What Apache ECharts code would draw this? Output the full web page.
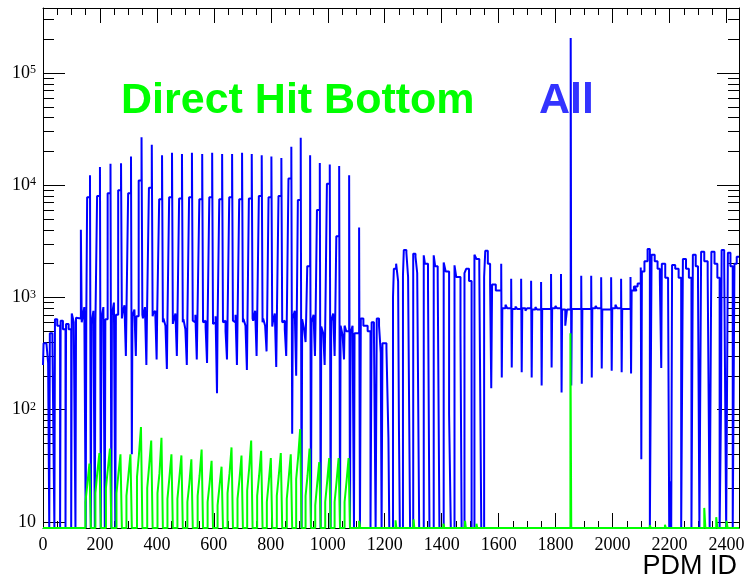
<!DOCTYPE html>
<html>
<head>
<meta charset="utf-8">
<script src="https://cdn.jsdelivr.net/npm/echarts@6/dist/echarts.min.js"></script>
<style>
html,body{margin:0;padding:0;background:#fff}
#main{width:744px;height:582px}
</style>
</head>
<body>
<div id="main"></div>
<script>
// 坐标范围
var X_MAX = 2444;
var Y_MIN = 8.8;
var Y_MAX = 380000;

// 刻度
var xTicks = [0, 200, 400, 600, 800, 1000, 1200, 1400, 1600, 1800, 2000, 2200, 2400];
var yTicks = [10, 100, 1000, 10000, 100000];

// All (蓝) - 开头几段 [PDM ID, 计数]
var blueStart = [
    [0, 250], [2, 390], [12, 400], [18, 260], [22, 0], [24, 480], [33, 420], [40, 0],
    [42, 640], [50, 560], [60, 0], [62, 620], [70, 520], [79, 0], [81, 580], [90, 520],
    [99, 0], [101, 720], [108, 600], [114, 0], [116, 660]
];
// 尖峰区: [峰位置, 肩, 峰, 峰后, 平台1, 凹陷, 平台2]
var blueSpikes = [
    [135, 650, 4000, 600, 640, 0, 820],
    [167, 7800, 12300, 0, 580, 0, 760],
    [202, 8000, 14500, 0, 640, 0, 820],
    [239, 8500, 15500, 0, 700, 0, 900],
    [276, 9000, 15700, 650, 720, 300, 850],
    [311, 8500, 18000, 40, 680, 300, 780],
    [348, 11000, 26800, 700, 650, 250, 820],
    [384, 9500, 23000, 680, 720, 280, 760],
    [420, 7500, 18500, 600, 650, 230, 560],
    [455, 7800, 19500, 580, 620, 300, 720],
    [490, 7600, 19000, 600, 640, 250, 520],
    [525, 7800, 19500, 620, 600, 280, 700],
    [561, 7500, 19000, 600, 620, 260, 540],
    [596, 7800, 19500, 580, 600, 140, 680],
    [631, 7500, 19000, 600, 620, 280, 500],
    [666, 7800, 19000, 620, 600, 250, 700],
    [701, 7500, 19500, 600, 640, 225, 560],
    [735, 7600, 19000, 650, 620, 300, 760],
    [770, 8000, 18500, 600, 650, 330, 560],
    [804, 7800, 18000, 550, 600, 240, 720],
    [839, 8000, 17500, 600, 620, 300, 520],
    [874, 11500, 22000, 61, 650, 200, 760],
    [907, 7400, 26500, 0, 640, 400, 520],
    [940, 1900, 18500, 0, 600, 300, 700],
    [974, 6000, 15800, 0, 550, 250, 480],
    [1009, 10300, 15300, 0, 620, 300, 720],
    [1042, 3500, 14800, 0, 560, 280, 460],
    [1077, 500, 12300, 0, 480, 0, 560]
];
// 1100-1230
var blueGap = [
    [1096, 480], [1110, 4200], [1113, 0], [1116, 650], [1125, 560], [1140, 500], [1150, 0],
    [1154, 600], [1162, 520], [1168, 0], [1172, 650], [1180, 560], [1186, 320], [1189, 0],
    [1192, 390], [1206, 350], [1213, 56], [1216, 0]
];
// 1230-1600
var blueBlocks = [
    [1229, 1000], [1232, 1800], [1240, 2000], [1247, 1400], [1250, 65], [1253, 0],
    [1264, 1560], [1267, 2640], [1276, 2500], [1282, 1520], [1289, 0],
    [1300, 2450], [1308, 2300], [1314, 1650], [1321, 0],
    [1337, 2370], [1341, 2000], [1352, 1200], [1357, 0],
    [1372, 2370], [1377, 1900], [1386, 1500], [1392, 0],
    [1407, 2050], [1414, 1700], [1426, 92], [1432, 0],
    [1445, 1930], [1451, 1520], [1466, 480], [1470, 0],
    [1480, 1650], [1486, 1800], [1496, 1400], [1505, 0],
    [1515, 2400], [1522, 2200], [1532, 1850], [1539, 0],
    [1549, 1520], [1553, 2600], [1562, 2000], [1570, 1300], [1574, 155], [1577, 1300], [1590, 1150]
];
// 平坦区: [位置, 上尖, 下尖, 基线, 中段]
var blueFlat = [
    [1610, 2000, 193, 800, 860],
    [1645, 1470, 237, 790, 830],
    [1680, 1470, 215, 800, 760],
    [1715, 1410, 193, 780, 820],
    [1750, 1370, 164, 790, 760],
    [1785, 1620, 237, 800, 840],
    [1820, 1620, 142, 780, 560],
    [1854, 205000, 164, 790, 820],
    [1891, 1560, 170, 790, 760],
    [1926, 1560, 193, 800, 840],
    [1961, 1510, 232, 780, 760],
    [1996, 1510, 222, 800, 860],
    [2031, 1470, 215, 790, 820],
    [2064, 1520, 210, 1150, 1250]
];
// 2070-末尾
var blueTail = [
    [2075, 1250], [2088, 1330], [2099, 1850], [2101, 36], [2103, 1700], [2112, 2100], [2123, 2700], [2131, 0],
    [2137, 2400], [2148, 2100], [2158, 1800], [2166, 1500], [2171, 235], [2173, 2000], [2185, 1500], [2195, 1200], [2199, 0], [2204, 23], [2206, 0],
    [2209, 1940], [2220, 1800], [2232, 1500], [2241, 0],
    [2247, 2200], [2258, 1800], [2268, 1500], [2277, 0],
    [2282, 2400], [2292, 1900], [2300, 1400], [2305, 0],
    [2311, 2550], [2322, 2100], [2334, 1600], [2341, 0],
    [2347, 2550], [2358, 2000], [2368, 1500], [2376, 0],
    [2381, 113], [2383, 2640], [2392, 2000], [2399, 0],
    [2405, 2500], [2414, 1900], [2422, 0],
    [2428, 2000], [2436, 2300], [X_MAX, 2300]
];

// Direct Hit Bottom (绿) - 锯齿: [峰位置, 低, 中, 峰]
var greenTeeth = [
    [167, 15, 22, 33], [202, 18, 28, 41], [239, 20, 30, 45], [276, 18, 27, 40],
    [311, 17, 26, 40], [348, 25, 40, 70], [384, 20, 32, 53], [420, 18, 27, 56],
    [455, 16, 25, 40], [490, 16, 25, 39], [525, 15, 22, 36], [561, 17, 26, 44],
    [596, 15, 22, 35], [631, 14, 21, 31], [666, 18, 27, 46], [701, 16, 24, 39],
    [735, 19, 30, 53], [770, 17, 26, 43], [804, 15, 23, 37], [839, 17, 26, 41],
    [874, 16, 25, 40], [907, 24, 38, 67], [940, 17, 26, 45], [974, 14, 22, 34],
    [1009, 15, 23, 37], [1042, 15, 23, 37], [1077, 15, 23, 37]
];
var greenBumps = [
    [1110, 10.2], [1114, 0], [1238, 10.3], [1241, 0], [1301, 10.5], [1304, 0],
    [1406, 9.6], [1409, 0], [1482, 10.2], [1485, 0], [1522, 9.6], [1525, 0],
    [1852, 480], [1855, 0], [2131, 9.3], [2134, 0], [2184, 9.4], [2187, 0],
    [2322, 13.3], [2326, 0], [2364, 11], [2368, 0], [2400, 10.2], [2404, 0]
];

function floorZero(pts) {
    return pts.map(function (p) { return [p[0], p[1] > 0 ? p[1] : Y_MIN]; });
}

function buildBlue() {
    var pts = blueStart.slice();
    blueSpikes.forEach(function (r) {
        var s = r[0];
        pts.push([s - 12, r[1]], [s - 2, r[2]], [s + 1, r[3]], [s + 3, r[4]], [s + 10, r[6]],
                 [s + 15, r[5]], [s + 17, r[4]]);
    });
    pts = pts.concat(blueGap, blueBlocks);
    blueFlat.forEach(function (r) {
        pts.push([r[0] - 1, r[1]], [r[0] + 1, r[2]], [r[0] + 3, r[3]], [r[0] + 14, r[4]], [r[0] + 20, r[3]]);
    });
    pts = pts.concat(blueTail);
    return floorZero(pts);
}

function buildGreen() {
    var pts = [[0, 0]];
    greenTeeth.forEach(function (r) {
        var s = r[0];
        pts.push([s - 18, r[1]], [s - 11, r[2]], [s - 4, r[3]], [s + 1, 0]);
    });
    pts = pts.concat(greenBumps);
    pts.push([X_MAX, 0]);
    return floorZero(pts);
}

// 次刻度
var xMinorTicks = [];
for (var i = 50; i < X_MAX; i += 50) {
    if (i % 200 !== 0) xMinorTicks.push(i);
}
var yMinorTicks = [9];
for (var d = 10; d <= 100000; d *= 10) {
    for (var k = 2; k <= 9; k++) {
        if (d * k < Y_MAX) yMinorTicks.push(d * k);
    }
}

var serif = '"Liberation Serif", "DejaVu Serif", serif';
var sans = '"Liberation Sans", Arial, sans-serif';

function xAxisOf(pos, major) {
    return {
        type: 'value', min: 0, max: X_MAX, position: pos,
        axisLine: { show: major, onZero: false, lineStyle: { color: '#000', width: 1 } },
        axisTick: {
            show: true, inside: true, length: major ? 15 : 7,
            customValues: major ? xTicks : xMinorTicks,
            lineStyle: { color: '#000', width: 1 }
        },
        axisLabel: {
            show: major && pos === 'bottom', customValues: xTicks,
            formatter: function (v) { return String(v); },
            fontFamily: serif, fontSize: 18, color: '#000', margin: 8
        },
        splitLine: { show: false }
    };
}

function yAxisOf(pos, major) {
    return {
        type: 'log', min: Y_MIN, max: Y_MAX, position: pos,
        axisLine: { show: major, onZero: false, lineStyle: { color: '#000', width: 1 } },
        axisTick: {
            show: true, inside: true, length: major ? 22 : 11,
            customValues: major ? yTicks : yMinorTicks,
            lineStyle: { color: '#000', width: 1 }
        },
        axisLabel: {
            show: major && pos === 'left', customValues: yTicks, margin: 7,
            formatter: function (v) {
                var e = Math.round(Math.log10(v));
                return e === 1 ? '{b|10}' : '{b|10}{s|' + e + '}';
            },
            rich: {
                b: { fontFamily: serif, fontSize: 18, color: '#000', verticalAlign: 'bottom', lineHeight: 18 },
                s: { fontFamily: serif, fontSize: 12, color: '#000', verticalAlign: 'top', lineHeight: 12, padding: [0, 0, 10, 0] }
            }
        },
        splitLine: { show: false }
    };
}

var chart = echarts.init(document.getElementById('main'), null, { renderer: 'canvas' });
chart.setOption({
    backgroundColor: '#fff',
    animation: false,
    grid: { left: 43, right: 5, top: 8, bottom: 54, containLabel: false, outerBoundsMode: 'none' },
    xAxis: [xAxisOf('bottom', true), xAxisOf('bottom', false), xAxisOf('top', true), xAxisOf('top', false)],
    yAxis: [yAxisOf('left', true), yAxisOf('left', false), yAxisOf('right', true), yAxisOf('right', false)],
    series: [
        {
            name: 'All', type: 'line', step: 'end', data: buildBlue(),
            showSymbol: false, symbol: 'none', clip: true,
            lineStyle: { color: '#0000ff', width: 2 }
        },
        {
            name: 'Direct Hit Bottom', type: 'line', step: 'end', data: buildGreen(),
            showSymbol: false, symbol: 'none', clip: true,
            lineStyle: { color: '#00ff00', width: 2 }
        }
    ],
    graphic: [
        { type: 'text', x: 121, y: 101, style: { text: 'Direct Hit Bottom', font: 'bold 43px ' + sans, fill: '#00ff00', verticalAlign: 'middle' } },
        { type: 'text', x: 539, y: 101, style: { text: 'All', font: 'bold 43px ' + sans, fill: '#3333ff', verticalAlign: 'middle' } },
        { type: 'text', x: 737, y: 567, style: { text: 'PDM ID', font: '27px ' + sans, fill: '#000', align: 'right', verticalAlign: 'middle' } }
    ]
});
</script>
</body>
</html>
